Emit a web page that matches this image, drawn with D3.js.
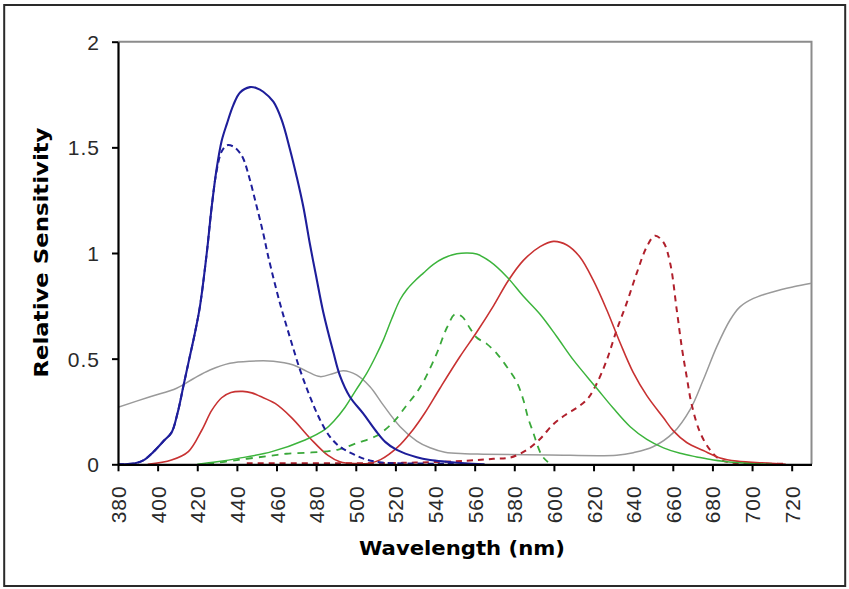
<!DOCTYPE html>
<html><head><meta charset="utf-8">
<script src="https://cdn.jsdelivr.net/npm/d3@7/dist/d3.min.js"></script>
<style>body{margin:0;background:#fff}svg{display:block}</style>
</head><body><svg id="c" width="849" height="589"></svg>
<script>
const xTicks = [380,400,420,440,460,480,500,520,540,560,580,600,620,640,660,680,700,720];
const yTicks = [0,0.5,1,1.5,2];
const yTickLabels = ["0","0.5","1","1.5","2"];
const xTitle = "Wavelength (nm)";
const yTitle = "Relative Sensitivity";

const blueSolid = [[380,0],[388,0.004],[393,0.02],[398,0.06],[403,0.11],[407,0.15],[410,0.24],[413,0.37],[416,0.5],[419,0.63],[421.4,0.75],[424.8,1.0],[427.3,1.22],[429.8,1.40],[432.3,1.53],[434.9,1.61],[438.2,1.70],[441.6,1.76],[446.6,1.785],[450,1.78],[453.3,1.763],[458.4,1.716],[462.6,1.63],[466.8,1.49],[470.2,1.36],[473.5,1.22],[476.9,1.04],[480,0.89],[483.6,0.72],[488.7,0.53],[492,0.42],[497,0.32],[503.8,0.24],[510,0.16],[515,0.105],[520.7,0.068],[530.8,0.033],[537.5,0.02],[546,0.012],[555,0.005],[565,0]];
const blueDashed = [[380,0],[388,0.004],[393,0.02],[398,0.06],[403,0.11],[407,0.15],[410,0.24],[413,0.37],[416,0.5],[419,0.63],[421.4,0.75],[424.8,1.0],[427.3,1.22],[429.8,1.39],[432.3,1.48],[435,1.51],[438,1.505],[441,1.48],[443.3,1.445],[446.6,1.345],[450,1.22],[453.3,1.093],[455.9,0.98],[461.8,0.76],[466.8,0.6],[471.9,0.446],[476.9,0.32],[482,0.21],[487,0.13],[492,0.083],[498.8,0.048],[505.5,0.022],[512,0.01],[520,0.005],[550,0.003]];
const greenSolid = [[420,0],[430,0.012],[440.7,0.028],[457.6,0.06],[474.4,0.115],[484.5,0.165],[489,0.205],[494.6,0.27],[500,0.35],[505.5,0.43],[510,0.51],[514,0.59],[518,0.685],[522.4,0.78],[526,0.83],[530,0.87],[534.1,0.905],[539,0.945],[544.2,0.975],[551,0.996],[556,1.0],[561,0.995],[567.7,0.96],[576.2,0.888],[584.6,0.795],[593,0.71],[601.4,0.605],[609.8,0.494],[621.6,0.36],[630,0.265],[638.5,0.178],[646.9,0.118],[655.3,0.078],[663.7,0.052],[672.1,0.035],[680.5,0.02],[692,0.008],[700,0.003],[710,0]];
const greenDashed = [[425,0],[440,0.02],[455,0.038],[465,0.05],[477.8,0.056],[491.2,0.07],[500.4,0.1],[510.6,0.135],[515.6,0.17],[520,0.21],[525.7,0.28],[530,0.33],[534.1,0.39],[540.9,0.525],[545.9,0.645],[550.1,0.71],[553.5,0.70],[557.7,0.643],[561,0.6],[566.1,0.57],[571.1,0.525],[576.2,0.462],[581.2,0.39],[584.6,0.304],[587.1,0.215],[589.7,0.147],[591.3,0.1],[594,0.04],[597,0.01]];
const redSolid = [[395,0],[407,0.02],[415.5,0.06],[422.2,0.16],[427.3,0.255],[432.3,0.315],[437,0.34],[443,0.345],[447.5,0.338],[451.7,0.322],[459.3,0.288],[467.7,0.22],[477.3,0.12],[486,0.042],[492,0.012],[500,0.003],[507,0.005],[512.5,0.022],[521,0.08],[529,0.165],[535,0.245],[542.5,0.36],[552.6,0.51],[561,0.625],[569.5,0.75],[577,0.87],[584.6,0.965],[593,1.03],[599.7,1.055],[606.5,1.038],[613.2,0.98],[619.9,0.87],[626.7,0.73],[633.4,0.575],[640,0.435],[646.9,0.325],[655.3,0.22],[660.3,0.158],[667,0.103],[675.4,0.065],[683.9,0.03],[692.3,0.015],[709,0.005],[717,0]];
const redDashed = [[445,0.005],[500,0.005],[530,0.008],[556,0.017],[569.5,0.026],[578,0.032],[586.3,0.068],[593,0.12],[599.7,0.19],[606,0.235],[612,0.27],[617,0.31],[621.5,0.38],[626.7,0.494],[631.7,0.636],[636.8,0.765],[641.8,0.905],[646.9,1.03],[651,1.082],[655.3,1.05],[658.7,0.95],[662,0.73],[664.6,0.55],[667,0.415],[669.6,0.28],[673.8,0.15],[678.8,0.068],[683.9,0.022],[690,0.008],[717,0.003]];
const gray = [[380,0.27],[396.2,0.32],[409.6,0.36],[418,0.405],[426.4,0.446],[436.5,0.478],[446.6,0.488],[458.4,0.488],[468.5,0.47],[475.3,0.44],[482,0.415],[488.7,0.43],[493.7,0.443],[500.4,0.423],[507.2,0.367],[513.9,0.28],[522.4,0.178],[530.8,0.11],[537.5,0.078],[545,0.057],[555,0.05],[564.4,0.048],[597.6,0.044],[631.7,0.043],[640.1,0.055],[650,0.083],[660.3,0.15],[668.8,0.26],[675.4,0.40],[682.2,0.557],[688.9,0.683],[693.9,0.745],[700.7,0.785],[710.8,0.817],[720.9,0.84],[730,0.857]];

const series = [
  {data: gray,        color:"#9a9a9a", width:1.5, dash:null},
  {data: redDashed,   color:"#b0202c", width:2,   dash:"6,5"},
  {data: redSolid,    color:"#c83232", width:1.6, dash:null},
  {data: greenDashed, color:"#3aa83a", width:1.8, dash:"7,6"},
  {data: greenSolid,  color:"#3cb43c", width:1.5, dash:null},
  {data: blueDashed,  color:"#1e1e9a", width:2,   dash:"6,4"},
  {data: blueSolid,   color:"#1e1e9a", width:2.1, dash:null}
];

const L=118, R=811.5, T=41.7, B=464.3;
const svg = d3.select("#c");
const x = d3.scaleLinear().domain([380,730]).range([L,R]);
const y = d3.scaleLinear().domain([0,2]).range([B,T]);

svg.append("rect").attr("x",4.2).attr("y",5).attr("width",841).attr("height",581)
  .attr("fill","none").attr("stroke","#2a2a2a").attr("stroke-width",2);

svg.append("path").attr("d",`M${L},${T}H${R}V${B}`).attr("fill","none")
  .attr("stroke","#8c8c8c").attr("stroke-width",2);

svg.append("defs").append("clipPath").attr("id","clip").append("rect")
  .attr("x",L).attr("y",T-5).attr("width",R-L).attr("height",B-T+5);

const line = d3.line().x(d=>x(d[0])).y(d=>y(Math.max(0,d[1]))).curve(d3.curveCatmullRom.alpha(0.5));
const g = svg.append("g").attr("clip-path","url(#clip)");
series.forEach(s=>{
  g.append("path").attr("d",line(s.data)).attr("fill","none")
    .attr("stroke",s.color).attr("stroke-width",s.width)
    .attr("stroke-dasharray",s.dash).attr("stroke-linejoin","round");
});

const ya = svg.append("g").attr("transform",`translate(${L},0)`)
  .call(d3.axisLeft(y).tickValues(yTicks).tickSize(6).tickSizeOuter(0)
    .tickFormat((d,i)=>yTickLabels[i]).tickPadding(12));
ya.select(".domain").attr("stroke","#000").attr("stroke-width",2.2);
ya.selectAll(".tick line").attr("stroke","#000").attr("stroke-width",2);
ya.selectAll(".tick text").attr("font-family","Liberation Sans, Arial, sans-serif")
  .attr("font-size",21).attr("fill","#2a2a2a").attr("letter-spacing",1).attr("dy","0.36em");

const xa = svg.append("g").attr("transform",`translate(0,${B})`)
  .call(d3.axisBottom(x).tickValues(xTicks).tickSize(7).tickSizeOuter(0).tickFormat(d=>d));
xa.select(".domain").attr("stroke","#000").attr("stroke-width",2.2);
xa.selectAll(".tick line").attr("stroke","#000").attr("stroke-width",2);
xa.selectAll(".tick text").attr("font-family","Liberation Sans, Arial, sans-serif")
  .attr("font-size",21).attr("fill","#2a2a2a").attr("letter-spacing",1)
  .attr("text-anchor","end").attr("transform","translate(0,21) rotate(-90)")
  .attr("x",0).attr("y",0).attr("dy","0.36em");

svg.append("text").attr("x",462).attr("y",555).attr("text-anchor","middle")
  .attr("font-family","DejaVu Sans, sans-serif").attr("font-weight","bold").attr("font-size",19)
  .attr("fill","#000").attr("textLength",206).attr("lengthAdjust","spacingAndGlyphs").text(xTitle);
svg.append("text").attr("transform","translate(47.5,252.5) rotate(-90)").attr("text-anchor","middle")
  .attr("font-family","DejaVu Sans, sans-serif").attr("font-weight","bold").attr("font-size",19)
  .attr("fill","#000").attr("textLength",250).attr("lengthAdjust","spacingAndGlyphs").text(yTitle);
</script></body></html>
